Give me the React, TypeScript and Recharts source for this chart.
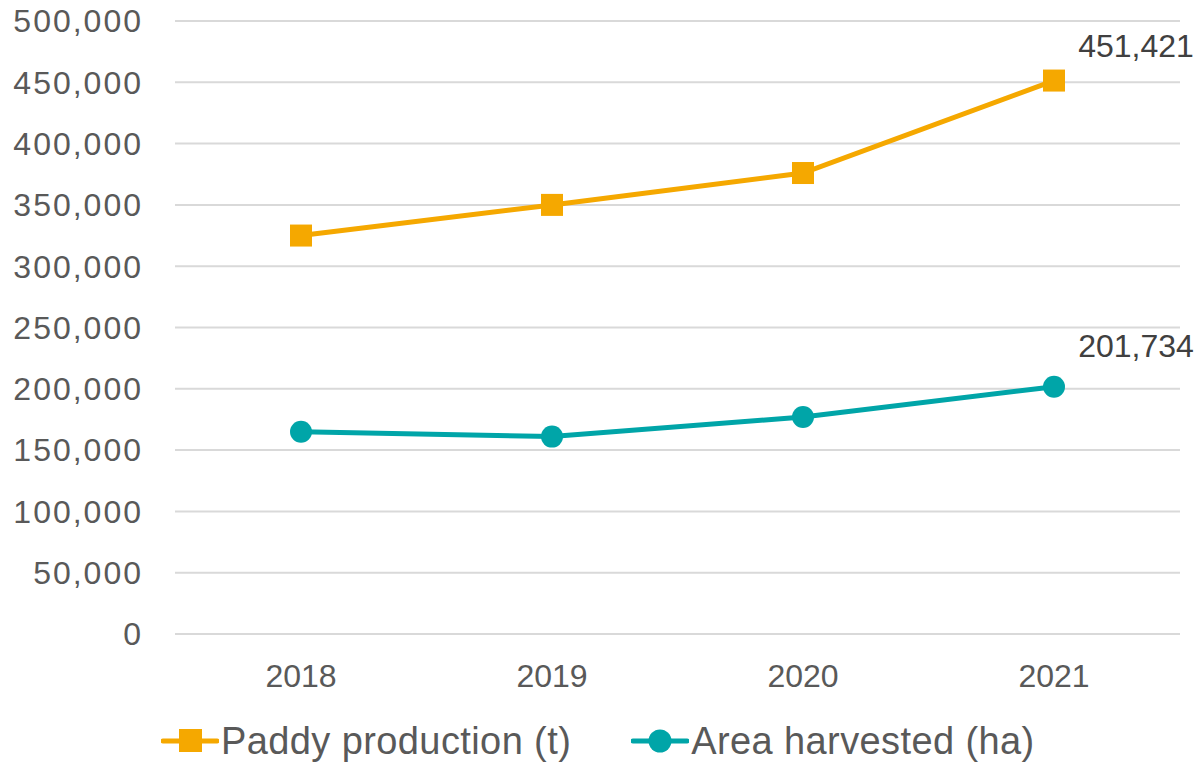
import React from 'react';
import { LineChart, Line, XAxis, YAxis, CartesianGrid, Legend, LabelList } from 'recharts';

// Values
const years = ['2018', '2019', '2020', '2021'];
const paddyProduction = [325000, 350000, 376000, 451421];
const areaHarvested = [165000, 161000, 177000, 201734];
const yTicks = [0, 50000, 100000, 150000, 200000, 250000, 300000, 350000, 400000, 450000, 500000];

const COLORS = {
  paddy: '#F5A800',
  area: '#00A5A8',
  grid: '#D9D9D9',
  tick: '#595959',
  label: '#404040',
};

const FONT = '"Liberation Sans", Arial, sans-serif';

const data = years.map((year, i) => ({
  year,
  paddy: paddyProduction[i],
  area: areaHarvested[i],
}));

const fmt = (v: number) => new Intl.NumberFormat('en-US').format(v);

const SquareDot = (props: any) => {
  const { cx, cy, index } = props;
  return <rect key={`sq-${index}`} x={cx - 11} y={cy - 11} width={22} height={22} fill={COLORS.paddy} />;
};

const CircleDot = (props: any) => {
  const { cx, cy, index } = props;
  return <circle key={`ci-${index}`} cx={cx} cy={cy} r={11} fill={COLORS.area} />;
};

// only the last point carries a value label
const lastLabel = (dy: number) => (props: any) => {
  const { x, y, value, index } = props;
  if (index !== years.length - 1) return null;
  return (
    <text x={x + 82} y={y + dy} textAnchor="middle" fontSize={32} fill={COLORS.label} fontFamily={FONT}>
      {fmt(value)}
    </text>
  );
};

const LegendIcon = ({ color, square }: { color: string; square: boolean }) => (
  <svg width={58} height={26} style={{ display: 'block' }}>
    <line x1={2} y1={13} x2={56} y2={13} stroke={color} strokeWidth={5} strokeLinecap="round" />
    {square ? <rect x={18} y={1} width={23} height={23} fill={color} /> : <circle cx={29} cy={13} r={11.5} fill={color} />}
  </svg>
);

const renderLegend = () => (
  <div
    style={{
      display: 'flex',
      alignItems: 'center',
      height: 50,
      paddingTop: 8,
      boxSizing: 'border-box',
      paddingLeft: 161,
      fontFamily: FONT,
      fontSize: 38,
      letterSpacing: 0.4,
      color: COLORS.tick,
    }}
  >
    <LegendIcon color={COLORS.paddy} square />
    <span style={{ marginLeft: 2 }}>Paddy production (t)</span>
    <span style={{ width: 60 }} />
    <LegendIcon color={COLORS.area} square={false} />
    <span style={{ marginLeft: 2 }}>Area harvested (ha)</span>
  </div>
);

export default function App() {
  return (
    <div style={{ position: 'absolute', left: 0, top: 0, width: 1198, height: 762, background: '#fff' }}>
      <LineChart width={1198} height={762} data={data} margin={{ top: 21, right: 18, bottom: 0, left: 0 }}>
        <CartesianGrid vertical={false} stroke={COLORS.grid} strokeWidth={2} />
        <XAxis
          dataKey="year"
          axisLine={false}
          tickLine={false}
          height={78}
          tickMargin={24}
          padding={{ left: 126, right: 126 }}
          tick={{ fontSize: 32, fill: COLORS.tick, fontFamily: FONT }}
        />
        <YAxis
          domain={[0, 500000]}
          ticks={yTicks}
          width={175}
          axisLine={false}
          tickLine={false}
          tickMargin={26}
          tickFormatter={fmt}
          tick={{ fontSize: 32, fill: COLORS.tick, fontFamily: FONT, letterSpacing: 2 }}
        />
        <Legend verticalAlign="bottom" height={50} content={renderLegend} />
        <Line
          dataKey="paddy"
          stroke={COLORS.paddy}
          strokeWidth={5}
          dot={SquareDot}
          activeDot={false}
          isAnimationActive={false}
        >
          <LabelList dataKey="paddy" content={lastLabel(-24)} />
        </Line>
        <Line
          dataKey="area"
          stroke={COLORS.area}
          strokeWidth={5}
          dot={CircleDot}
          activeDot={false}
          isAnimationActive={false}
        >
          <LabelList dataKey="area" content={lastLabel(-30)} />
        </Line>
      </LineChart>
    </div>
  );
}
